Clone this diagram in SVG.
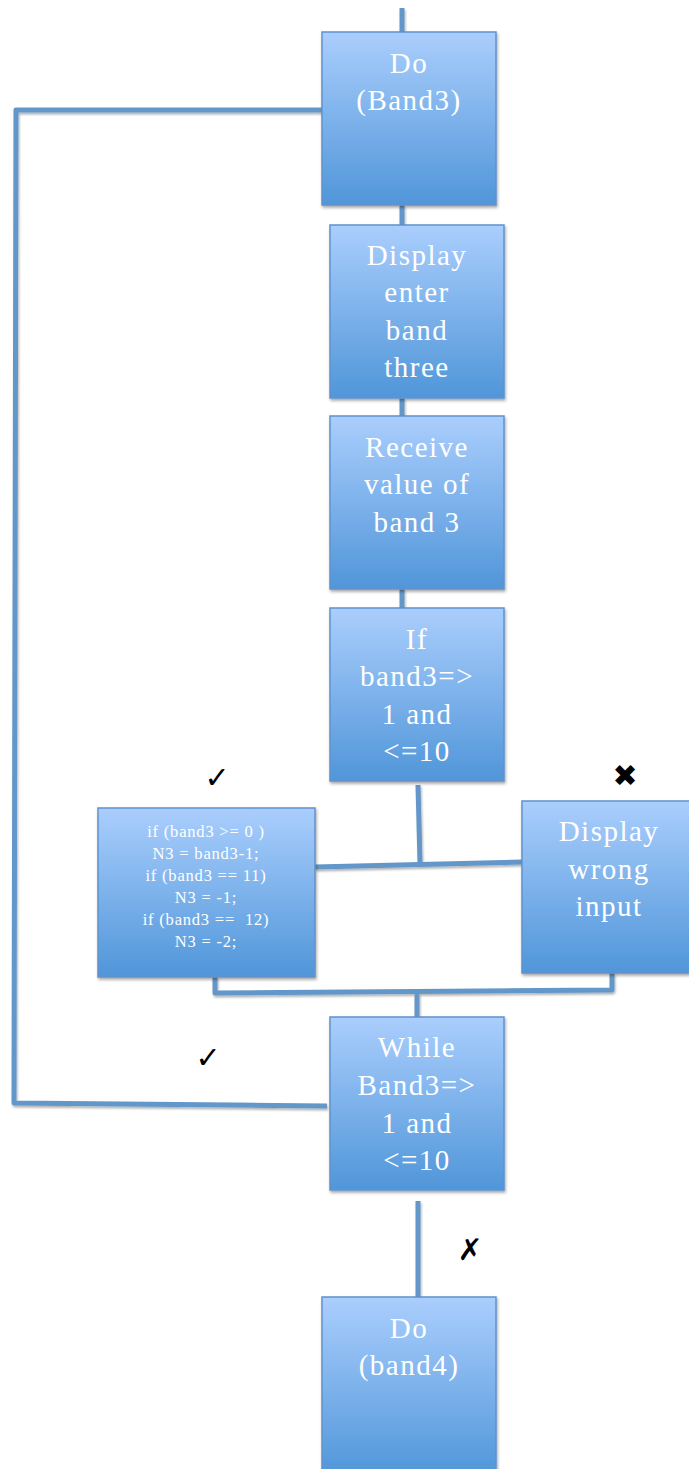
<svg xmlns="http://www.w3.org/2000/svg" width="689" height="1469" viewBox="0 0 689 1469">
<defs>
<linearGradient id="g" x1="0" y1="0" x2="0" y2="1">
<stop offset="0" stop-color="#aacefd"/>
<stop offset="1" stop-color="#5096d9"/>
</linearGradient>
<filter id="sh" x="-10%" y="-10%" width="130%" height="130%">
<feDropShadow dx="1" dy="2" stdDeviation="1.5" flood-color="#000" flood-opacity="0.35"/>
</filter>
<filter id="shl" filterUnits="userSpaceOnUse" x="0" y="0" width="689" height="1469">
<feDropShadow dx="1" dy="2" stdDeviation="1.2" flood-color="#000" flood-opacity="0.3"/>
</filter>
</defs>
<style>
.box{fill:url(#g);stroke:#5f92cc;stroke-width:1.5;filter:url(#sh)}
.t{font-family:"Liberation Serif",serif;font-size:29px;fill:#fff;text-anchor:middle;letter-spacing:1.5px}
.s{font-family:"Liberation Serif",serif;font-size:16.5px;fill:#fff;text-anchor:middle;letter-spacing:0.8px;white-space:pre}
.c{fill:none;stroke:#6497c9;stroke-width:5;stroke-linejoin:round}
.m{font-family:"DejaVu Sans",sans-serif;font-size:30px;font-weight:bold;fill:#000;text-anchor:middle}
</style>
<rect width="689" height="1469" fill="#fff"/>
<g id="connectors" filter="url(#shl)">
<path class="c" d="M402 8 V32"/>
<path class="c" d="M402 205 V225"/>
<path class="c" d="M402 398 V416"/>
<path class="c" d="M402 589 V608"/>
<path class="c" d="M418 785 L420 863"/>
<path class="c" d="M315 867 L522 862"/>
<path class="c" d="M215 977 V993 L612 990 V973"/>
<path class="c" d="M417 993 V1017"/>
<path class="c" d="M327 1106 L14 1103 L16 110 L333 110"/>
<path class="c" d="M418 1201 V1297"/>
</g>
<g id="do-band3">
<rect class="box" x="322" y="32" width="174" height="173"/>
<text class="t" x="409" y="73">Do</text>
<text class="t" x="409" y="110">(Band3)</text>
</g>
<g id="display-enter">
<rect class="box" x="330" y="225" width="174" height="173"/>
<text class="t" x="417" y="265">Display</text>
<text class="t" x="417" y="302">enter</text>
<text class="t" x="417" y="340">band</text>
<text class="t" x="417" y="377">three</text>
</g>
<g id="receive">
<rect class="box" x="330" y="416" width="174" height="173"/>
<text class="t" x="417" y="457">Receive</text>
<text class="t" x="417" y="494">value of</text>
<text class="t" x="417" y="532">band 3</text>
</g>
<g id="if-check">
<rect class="box" x="330" y="608" width="174" height="173"/>
<text class="t" x="417" y="649">If</text>
<text class="t" x="417" y="686">band3=&gt;</text>
<text class="t" x="417" y="724">1 and</text>
<text class="t" x="417" y="761">&lt;=10</text>
</g>
<g id="compute">
<rect class="box" x="98" y="808" width="217" height="169"/>
<text class="s" x="206" y="837">if (band3 &gt;= 0 )</text>
<text class="s" x="206" y="859">N3 = band3-1;</text>
<text class="s" x="206" y="881">if (band3 == 11)</text>
<text class="s" x="206" y="903">N3 = -1;</text>
<text class="s" x="206" y="925">if (band3 ==  12)</text>
<text class="s" x="206" y="947">N3 = -2;</text>
</g>
<g id="wrong-input">
<rect class="box" x="522" y="801" width="174" height="172"/>
<text class="t" x="609" y="841">Display</text>
<text class="t" x="609" y="879">wrong</text>
<text class="t" x="609" y="916">input</text>
</g>
<g id="while">
<rect class="box" x="330" y="1017" width="174" height="173"/>
<text class="t" x="417" y="1057">While</text>
<text class="t" x="417" y="1095">Band3=&gt;</text>
<text class="t" x="417" y="1133">1 and</text>
<text class="t" x="417" y="1170">&lt;=10</text>
</g>
<g id="do-band4">
<rect class="box" x="322" y="1297" width="174" height="180"/>
<text class="t" x="409" y="1338">Do</text>
<text class="t" x="409" y="1375">(band4)</text>
</g>
<g id="marks">
<text class="m" x="217" y="788">✓</text>
<text class="m" x="625" y="786">✖</text>
<text class="m" x="208" y="1068">✓</text>
<text class="m" x="470" y="1260">✗</text>
</g>
</svg>
